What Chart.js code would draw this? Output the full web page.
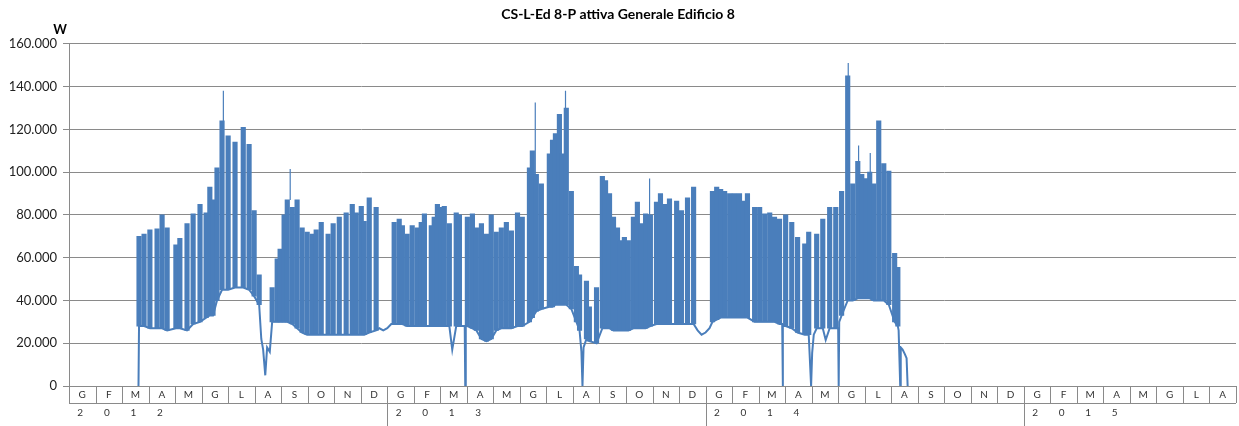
<!DOCTYPE html>
<html lang="it">
<head>
<meta charset="UTF-8">
<title>CS-L-Ed 8-P attiva Generale Edificio 8</title>
<style>
  html, body { margin: 0; padding: 0; background: #fff; }
</style>
</head>
<body>
<canvas id="chart" width="1239" height="426"></canvas>
<script src="https://cdn.jsdelivr.net/npm/chart.js"></script>
<script>
// axis categories
const years = ['2012', '2013', '2014', '2015'];
const monthsPerYear = [12, 12, 12, 8];
const monthLetters = ['G', 'F', 'M', 'A', 'M', 'G', 'L', 'A', 'S', 'O', 'N', 'D'];
const yTicks = [0, 20000, 40000, 60000, 80000, 100000, 120000, 140000, 160000];

// weekly working-day bands (x in months from Jan 2012, values in W)
const bandX = [
  2.64, 2.83, 3.05, 3.32, 3.51, 3.70, 4.03, 4.18, 4.45, 4.68, 4.94, 5.17, 5.31, 5.43, 5.58, 5.77, 6.00, 6.26, 6.57, 6.79, 6.98, 7.17,
  7.66, 7.85, 7.96, 8.11, 8.23, 8.42, 8.60, 8.79, 8.98, 9.17, 9.32, 9.51, 9.77, 9.96, 10.19, 10.45, 10.68, 10.83, 11.02, 11.13, 11.32, 11.58,
  12.26, 12.45, 12.57, 12.75, 12.94, 13.13, 13.28, 13.40, 13.66, 13.77, 13.89, 14.04, 14.15, 14.34, 14.60, 14.72, 15.02, 15.21, 15.36, 15.55, 15.74, 15.92, 16.11, 16.30, 16.49, 16.68, 16.91, 17.09,
  17.36, 17.47, 17.62, 17.81, 18.11, 18.23, 18.34, 18.49, 18.60, 18.75, 18.94, 19.13, 19.25, 19.51, 19.62, 19.89, 20.11, 20.23, 20.38, 20.53, 20.68, 20.79, 20.94, 21.09, 21.28, 21.43, 21.58, 21.74, 21.92,
  22.15, 22.30, 22.45, 22.64, 22.91, 23.09, 23.32, 23.55, 24.26, 24.42, 24.57, 24.72, 24.91, 25.09, 25.28, 25.43, 25.58, 25.85, 26.04, 26.23, 26.42, 26.60, 26.79,
  27.02, 27.25, 27.47, 27.74, 27.89, 28.19, 28.42, 28.68, 28.91, 29.13, 29.36, 29.55, 29.74, 29.89, 30.04, 30.19, 30.34, 30.53, 30.72, 30.91, 31.13, 31.25
];
const bandTop = [
  70000, 71000, 73000, 73500, 80000, 74000, 66000, 69000, 76000, 80500, 85000, 81000, 93000, 87000, 102000, 124000, 117000, 114000, 121000, 113000, 82000, 52000,
  46000, 59500, 64000, 80000, 87000, 83500, 87000, 74000, 72000, 71000, 73000, 76500, 71000, 76000, 79000, 81000, 85000, 81000, 84000, 77000, 88000, 83500,
  76500, 78000, 75000, 71000, 75000, 74000, 76500, 80500, 75000, 79000, 85000, 83500, 84000, 76000, 81000, 80000, 79000, 80500, 74000, 76000, 71000, 80000, 72000, 74000, 76500, 72500, 81000, 79000,
  102000, 110000, 99000, 94500, 108500, 115000, 118000, 127000, 108500, 130000, 91000, 56000, 52000, 49000, 37000, 46000, 98000, 96000, 90000, 79000, 74000, 68000, 69500, 68000, 79000, 86000, 76000, 80500, 80000,
  86000, 90000, 85000, 87500, 86500, 82000, 88000, 93000, 91000, 93000, 92000, 91000, 90000, 90000, 90000, 86500, 90000, 83500, 83500, 80500, 81000, 79000, 78000,
  80000, 76500, 69500, 66500, 72000, 71000, 78000, 83500, 83500, 91000, 145000, 94500, 105000, 99000, 97000, 100000, 94500, 124000, 104000, 100500, 62000, 55500
];
const bandLow = [
  28000, 28000, 27000, 27000, 27000, 26000, 27000, 27000, 26000, 29000, 30000, 32000, 33000, 33000, 40000, 45000, 45000, 46000, 46000, 45000, 42000, 38000,
  30000, 30000, 30000, 30000, 30000, 29000, 27000, 25000, 24000, 24000, 24000, 24000, 24000, 24000, 24000, 24000, 24000, 24000, 24000, 24000, 25000, 26000,
  29000, 29000, 29000, 28000, 28000, 28000, 28000, 28000, 28000, 28000, 28000, 28000, 28000, 28000, 28000, 28000, 28000, 27000, 26000, 22000, 21000, 22000, 26000, 27000, 27000, 27000, 28000, 28000,
  30000, 32000, 35000, 36000, 37000, 37000, 38000, 38000, 38000, 38000, 36000, 30000, 26000, 22000, 21000, 20000, 27000, 27000, 27000, 26000, 26000, 26000, 26000, 26000, 27000, 27000, 27000, 27000, 28000,
  29000, 29000, 29000, 29000, 29000, 29000, 29000, 29000, 30000, 31000, 32000, 32000, 32000, 32000, 32000, 32000, 32000, 30000, 30000, 30000, 30000, 30000, 29000,
  28000, 27000, 25000, 24000, 24000, 27000, 27000, 27000, 27000, 33000, 40000, 40000, 41000, 41000, 41000, 41000, 40000, 40000, 40000, 38000, 30000, 28000
];

// holidays, dips and zero readings on the base line
const lowX = [2.62, 7.25, 7.32, 7.40, 7.47, 7.57, 11.70, 11.85, 12.00, 12.15, 14.45, 14.92, 14.94, 14.96,
  19.32, 19.36, 19.40, 23.70, 23.85, 24.00, 24.15, 26.89, 26.91, 26.92, 27.98, 28.02, 28.08, 28.53,
  29.00, 29.02, 29.04, 31.28, 31.34, 31.36, 31.43, 31.51, 31.58, 31.62];
const lowY = [0, 22000, 17000, 5000, 18000, 16000, 27000, 26000, 27000, 29000, 17000, 28000, 0, 28000,
  16000, 0, 18000, 26000, 24000, 25000, 27000, 29000, 0, 28000, 0, 15500, 24000, 21500,
  27000, 0, 30000, 26000, 0, 18000, 17000, 15000, 13000, 0];

// thin peaks standing above the bands
const spikeX = [5.82, 8.34, 17.58, 18.72, 21.89, 29.38, 29.77, 30.21];
const spikeBase = [120000, 87000, 99000, 130000, 80000, 140000, 100000, 98000];
const spikeTop = [138000, 101500, 132500, 138000, 97000, 151000, 112500, 109000];

const nMonths = monthsPerYear.reduce((a, b) => a + b, 0);
const blue = '#4a7ebb';
const gridCol = '#8a8a8a';

const basePoints = bandX.map((x, i) => ({ x: x, y: bandLow[i] }))
  .concat(lowX.map((x, i) => ({ x: x, y: lowY[i] })))
  .sort((a, b) => a.x - b.x);
const spikePoints = [];
spikeX.forEach((x, i) => {
  spikePoints.push({ x: x, y: spikeBase[i] }, { x: x, y: spikeTop[i] }, { x: x, y: null });
});

function fmt(v) {
  return String(v).replace(/\B(?=(\d{3})+(?!\d))/g, '.');
}

// month / year table under the plot, plus the unit label
const axisTable = {
  id: 'axisTable',
  afterDraw(chart) {
    const ctx = chart.ctx;
    const xs = chart.scales.x;
    const area = chart.chartArea;
    const y0 = area.bottom;
    const yRow = y0 + 17;
    ctx.save();
    ctx.strokeStyle = gridCol;
    ctx.lineWidth = 1;
    ctx.beginPath();
    for (let i = 0; i <= nMonths; i++) {
      const px = Math.round(xs.getPixelForValue(i)) + 0.5;
      ctx.moveTo(px, y0);
      ctx.lineTo(px, yRow);
    }
    ctx.moveTo(area.left, yRow + 0.5);
    ctx.lineTo(area.right, yRow + 0.5);
    let acc = 0;
    monthsPerYear.forEach((n, k) => {
      if (k > 0) {
        const px = Math.round(xs.getPixelForValue(acc)) + 0.5;
        ctx.moveTo(px, yRow);
        ctx.lineTo(px, chart.height);
      }
      acc += n;
    });
    ctx.stroke();

    ctx.fillStyle = '#333';
    ctx.font = '10px Lato';
    ctx.textAlign = 'center';
    ctx.textBaseline = 'middle';
    acc = 0;
    monthsPerYear.forEach((n, k) => {
      for (let j = 0; j < n; j++) {
        ctx.fillText(monthLetters[j], xs.getPixelForValue(acc + j + 0.5), y0 + 9);
      }
      years[k].split('').forEach((d, j) => {
        ctx.fillText(d, xs.getPixelForValue(acc + j + 0.5) - 2, yRow + 10);
      });
      acc += n;
    });

    ctx.fillStyle = '#000';
    ctx.font = 'bold 13px Lato';
    ctx.fillText('W', area.left - 9, area.top - 14);
    ctx.restore();
  }
};

Chart.defaults.font.family = 'Lato';

new Chart(document.getElementById('chart'), {
  type: 'bar',
  data: {
    datasets: [
      {
        type: 'line',
        data: basePoints,
        borderColor: blue,
        borderWidth: 2,
        pointRadius: 0,
        tension: 0,
        order: 2
      },
      {
        type: 'line',
        data: spikePoints,
        borderColor: blue,
        borderWidth: 1.2,
        pointRadius: 0,
        spanGaps: false,
        order: 1
      },
      {
        type: 'bar',
        data: bandX.map((x, i) => ({ x: x, y: [bandLow[i], bandTop[i]] })),
        backgroundColor: blue,
        borderWidth: 0,
        barThickness: 4.5,
        order: 3
      }
    ]
  },
  options: {
    responsive: false,
    animation: false,
    layout: { padding: { right: 3 } },
    plugins: {
      legend: { display: false },
      tooltip: { enabled: false },
      title: {
        display: true,
        text: 'CS-L-Ed 8-P attiva Generale Edificio 8',
        color: '#000',
        font: { size: 14, weight: 'bold' },
        padding: { top: 6, bottom: 21 }
      }
    },
    scales: {
      x: {
        type: 'linear',
        offset: false,
        min: 0,
        max: nMonths,
        grid: { display: false },
        border: { display: false },
        ticks: { display: false },
        afterFit(s) { s.height = 40; }
      },
      y: {
        min: 0,
        max: 160000,
        afterBuildTicks(s) { s.ticks = yTicks.map(v => ({ value: v })); },
        afterFit(s) { s.width = 69; },
        grid: { color: gridCol, tickLength: 6 },
        border: { color: gridCol },
        ticks: {
          color: '#222',
          padding: 6,
          font: { size: 13 },
          callback: v => fmt(v)
        }
      }
    }
  },
  plugins: [axisTable]
});
</script>
</body>
</html>
